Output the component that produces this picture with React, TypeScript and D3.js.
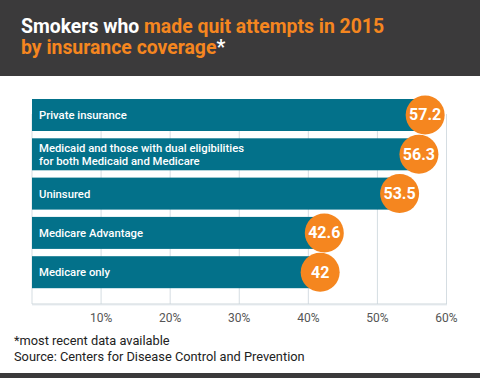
import React from "react";
import * as d3 from "d3";

const categories: string[][] = [
  ["Private insurance"],
  ["Medicaid and those with dual eligibilities", "for both Medicaid and Medicare"],
  ["Uninsured"],
  ["Medicare Advantage"],
  ["Medicare only"],
];
const values: number[] = [57.2, 56.3, 53.5, 42.6, 42];
const valueLabels: string[] = ["57.2", "56.3", "53.5", "42.6", "42"];
const ticks: number[] = [10, 20, 30, 40, 50, 60];

const W = 480;
const H = 378;
const TEAL = "#03718a";
const ORANGE = "#f5861f";
const DARK = "#3b3a3b";
const FONT = "Roboto, 'Open Sans', sans-serif";

export default function App() {
  const x = d3.scaleLinear().domain([0, 60]).range([32, 446.5]);
  const idx = categories.map((_, i) => String(i));
  const y = d3.scaleBand().domain(idx).range([99, 288.2]).paddingInner(0.186).paddingOuter(0);
  const bw = y.bandwidth();
  const gridTop = 114;
  const plotBottom = 304;

  return (
    <svg width={W} height={H} style={{ position: "absolute", left: 0, top: 0, display: "block" }}>
      <rect x={0} y={0} width={W} height={H} fill="#ffffff" />
      <rect x={0} y={0} width={W} height={76} fill={DARK} />
      <text x={21} y={32.5} fontFamily={FONT} fontWeight={700} fontSize={19.4} fill="#ffffff">
        Smokers who <tspan fill={ORANGE}>made quit attempts in 2015</tspan>
      </text>
      <text x={21} y={53.5} fontFamily={FONT} fontWeight={700} fontSize={19.4} fill={ORANGE}>
        by insurance coverage<tspan fill="#ffffff">*</tspan>
      </text>

      {/* grid */}
      <line x1={x(0)} x2={x(0)} y1={gridTop} y2={plotBottom} stroke="#d5dde2" strokeWidth={1} />
      {ticks.map((t) => (
        <line key={t} x1={x(t)} x2={x(t)} y1={gridTop} y2={plotBottom} stroke="#d5dde2" strokeWidth={1} />
      ))}
      <line x1={x(0)} x2={x(60) + 0.5} y1={plotBottom + 1} y2={plotBottom + 1} stroke="#e8eef1" strokeWidth={1} />
      <line x1={x(0)} x2={x(60) + 0.5} y1={plotBottom} y2={plotBottom} stroke="#cdd6db" strokeWidth={1} />

      {/* bars */}
      {values.map((v, i) => (
        <rect key={i} x={x(0)} y={y(String(i))!} width={x(v) - x(0)} height={bw} fill={TEAL} />
      ))}
      {categories.map((lines, i) => {
        const cy = y(String(i))! + bw / 2;
        const lh = 13;
        const start = cy - ((lines.length - 1) * lh) / 2 + 4;
        return (
          <text key={i} fontFamily={FONT} fontWeight={500} fontSize={11.3} fill="#ffffff">
            {lines.map((l, j) => (
              <tspan key={j} x={39} y={start + j * lh}>
                {l}
              </tspan>
            ))}
          </text>
        );
      })}
      {values.map((v, i) => {
        const cy = y(String(i))! + bw / 2;
        const cx = x(v) - 2;
        return (
          <g key={i}>
            <circle cx={cx} cy={cy} r={19.5} fill={ORANGE} />
            <text x={cx} y={cy + 5.5} textAnchor="middle" fontFamily={FONT} fontWeight={700} fontSize={16} fill="#ffffff">
              {valueLabels[i]}
            </text>
          </g>
        );
      })}

      {/* axis labels */}
      {ticks.map((t) => (
        <text key={t} x={x(t)} y={322} textAnchor="middle" fontFamily={FONT} fontSize={12} fill="#555555">
          {t}%
        </text>
      ))}

      <text x={14} y={345} fontFamily={FONT} fontSize={12.8} fill="#222222">*most recent data available</text>
      <text x={14} y={360.5} fontFamily={FONT} fontSize={12.8} fill="#222222">Source: Centers for Disease Control and Prevention</text>

      <rect x={0} y={373} width={W} height={5} fill={DARK} />
    </svg>
  );
}
